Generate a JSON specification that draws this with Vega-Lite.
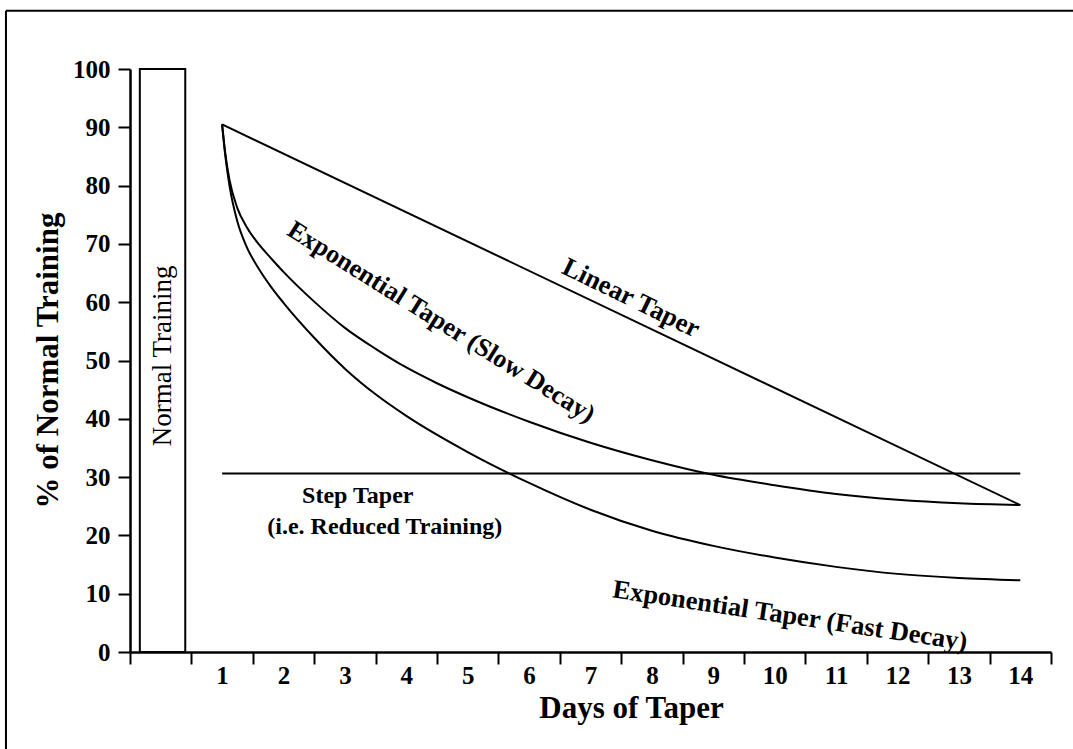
{
  "$schema": "https://vega.github.io/schema/vega-lite/v6.json",
  "width": 921,
  "height": 583,
  "autosize": {"type": "none"},
  "padding": {"left": 130, "top": 69, "right": 22, "bottom": 97},
  "background": "white",
  "config": {
    "view": {"stroke": null},
    "font": "Liberation Serif",
    "axis": {"grid": false, "domainColor": "black", "tickColor": "black", "labelColor": "black", "titleColor": "black"}
  },
  "resolve": {"axis": {"x": "independent", "y": "independent"}},
  "datasets": {
    "curves": [
      {"series": "Linear", "day": 1, "value": 90.5},
      {"series": "Linear", "day": 14, "value": 25.2},
      {"series": "Step", "day": 1, "value": 30.6},
      {"series": "Step", "day": 14, "value": 30.6},
      {"series": "Slow", "day": 1, "value": 90.5},
      {"series": "Slow", "day": 1.05, "value": 85.7},
      {"series": "Slow", "day": 1.12, "value": 81},
      {"series": "Slow", "day": 1.25, "value": 76.1},
      {"series": "Slow", "day": 1.4, "value": 72.9},
      {"series": "Slow", "day": 1.6, "value": 69.9},
      {"series": "Slow", "day": 1.8, "value": 67.5},
      {"series": "Slow", "day": 2, "value": 65.2},
      {"series": "Slow", "day": 2.5, "value": 60.1},
      {"series": "Slow", "day": 3, "value": 55.6},
      {"series": "Slow", "day": 3.5, "value": 52},
      {"series": "Slow", "day": 4, "value": 48.8},
      {"series": "Slow", "day": 4.5, "value": 46.1},
      {"series": "Slow", "day": 5, "value": 43.7},
      {"series": "Slow", "day": 6, "value": 39.5},
      {"series": "Slow", "day": 7, "value": 35.9},
      {"series": "Slow", "day": 8, "value": 32.9},
      {"series": "Slow", "day": 9, "value": 30.4},
      {"series": "Slow", "day": 10, "value": 28.6},
      {"series": "Slow", "day": 11, "value": 27.1},
      {"series": "Slow", "day": 12, "value": 26.1},
      {"series": "Slow", "day": 13, "value": 25.5},
      {"series": "Slow", "day": 14, "value": 25.2},
      {"series": "Fast", "day": 1, "value": 90.5},
      {"series": "Fast", "day": 1.05, "value": 85.3},
      {"series": "Fast", "day": 1.12, "value": 80},
      {"series": "Fast", "day": 1.25, "value": 73.8},
      {"series": "Fast", "day": 1.4, "value": 69.5},
      {"series": "Fast", "day": 1.6, "value": 65.7},
      {"series": "Fast", "day": 1.8, "value": 62.6},
      {"series": "Fast", "day": 2, "value": 59.9},
      {"series": "Fast", "day": 2.5, "value": 53.9},
      {"series": "Fast", "day": 3, "value": 48.6},
      {"series": "Fast", "day": 3.5, "value": 44.2},
      {"series": "Fast", "day": 4, "value": 40.5},
      {"series": "Fast", "day": 5, "value": 34.3},
      {"series": "Fast", "day": 6, "value": 29},
      {"series": "Fast", "day": 7, "value": 24.4},
      {"series": "Fast", "day": 8, "value": 20.8},
      {"series": "Fast", "day": 9, "value": 18.2},
      {"series": "Fast", "day": 10, "value": 16.2},
      {"series": "Fast", "day": 11, "value": 14.6},
      {"series": "Fast", "day": 12, "value": 13.4},
      {"series": "Fast", "day": 13, "value": 12.7},
      {"series": "Fast", "day": 14, "value": 12.3}
    ],
    "normalBar": [
      {"label": "Normal Training", "day": -0.34, "end": 0.4, "value": 0, "high": 100}
    ],
    "normalLabel": [
      {"label": "Normal Training", "day": 0.03, "value": 50.8}
    ]
  },
  "layer": [
    {
      "data": {"name": "curves"},
      "mark": {"type": "line", "color": "black", "strokeWidth": 2, "interpolate": "monotone"},
      "encoding": {
        "x": {
          "field": "day", "type": "quantitative",
          "scale": {"domain": [-0.5, 14.5], "nice": false, "zero": false},
          "axis": {
            "title": "Days of Taper",
            "values": [-0.5, 0.5, 1.5, 2.5, 3.5, 4.5, 5.5, 6.5, 7.5, 8.5, 9.5, 10.5, 11.5, 12.5, 13.5, 14.5],
            "labelExpr": "datum.value > 0 && datum.value < 14 ? format(datum.value + 0.5, 'd') : ''",
            "labelOffset": 30.7,
            "labelFlush": false,
            "labelOverlap": false,
            "labelBound": false,
            "labelFont": "Liberation Serif",
            "labelFontWeight": "bold",
            "labelFontSize": 25,
            "labelBaseline": "alphabetic",
            "labelPadding": 19,
            "tickSize": 12,
            "tickWidth": 2,
            "domainWidth": 2.5,
            "titleFont": "Liberation Serif",
            "titleFontWeight": "bold",
            "titleFontSize": 31,
            "titleBaseline": "alphabetic",
            "titleAlign": "center",
            "titleX": 501,
            "titleY": 65
          }
        },
        "y": {
          "field": "value", "type": "quantitative",
          "scale": {"domain": [0, 100], "nice": false},
          "axis": {
            "title": "% of Normal Training",
            "values": [0, 10, 20, 30, 40, 50, 60, 70, 80, 90, 100],
            "labelFont": "Liberation Serif",
            "labelFontWeight": "bold",
            "labelFontSize": 25,
            "labelPadding": 8,
            "tickSize": 12,
            "tickWidth": 2,
            "domainWidth": 2.5,
            "titleFont": "Liberation Serif",
            "titleFontWeight": "bold",
            "titleFontSize": 31,
            "titleAngle": -90,
            "titleAlign": "center",
            "titleBaseline": "middle",
            "titleX": -82,
            "titleY": 291
          }
        },
        "detail": {"field": "series"}
      }
    },
    {
      "data": {"name": "normalBar"},
      "mark": {"type": "rect", "fill": "white", "stroke": "black", "strokeWidth": 2},
      "encoding": {
        "x": {"field": "day", "type": "quantitative", "scale": {"domain": [-0.5, 14.5], "nice": false, "zero": false}, "axis": null},
        "x2": {"field": "end"},
        "y": {"field": "value", "type": "quantitative", "scale": {"domain": [0, 100], "nice": false}, "axis": null},
        "y2": {"field": "high"}
      }
    },
    {
      "data": {"name": "normalLabel"},
      "mark": {"type": "text", "angle": 270, "font": "Liberation Serif", "fontSize": 27, "color": "black", "align": "center", "baseline": "middle"},
      "encoding": {
        "x": {"field": "day", "type": "quantitative", "scale": {"domain": [-0.5, 14.5], "nice": false, "zero": false}, "axis": null},
        "y": {"field": "value", "type": "quantitative", "scale": {"domain": [0, 100], "nice": false}, "axis": null},
        "text": {"field": "label"}
      }
    },
    {
      "data": {"values": [{"label": "Linear Taper", "day": 7.66, "value": 60.7}]},
      "mark": {"type": "text", "angle": 26, "font": "Liberation Serif", "fontWeight": "bold", "fontSize": 26.5, "color": "black", "align": "center", "baseline": "middle"},
      "encoding": {
        "x": {"field": "day", "type": "quantitative", "scale": {"domain": [-0.5, 14.5], "nice": false, "zero": false}, "axis": null},
        "y": {"field": "value", "type": "quantitative", "scale": {"domain": [0, 100], "nice": false}, "axis": null},
        "text": {"field": "label"}
      }
    },
    {
      "data": {"values": [{"label": "Exponential Taper (Slow Decay)", "day": 4.57, "value": 56.6}]},
      "mark": {"type": "text", "angle": 32, "font": "Liberation Serif", "fontWeight": "bold", "fontSize": 26, "color": "black", "align": "center", "baseline": "middle"},
      "encoding": {
        "x": {"field": "day", "type": "quantitative", "scale": {"domain": [-0.5, 14.5], "nice": false, "zero": false}, "axis": null},
        "y": {"field": "value", "type": "quantitative", "scale": {"domain": [0, 100], "nice": false}, "axis": null},
        "text": {"field": "label"}
      }
    },
    {
      "data": {"values": [{"label": "Exponential Taper (Fast Decay)", "day": 10.25, "value": 6.2}]},
      "mark": {"type": "text", "angle": 8.5, "font": "Liberation Serif", "fontWeight": "bold", "fontSize": 26.5, "color": "black", "align": "center", "baseline": "middle"},
      "encoding": {
        "x": {"field": "day", "type": "quantitative", "scale": {"domain": [-0.5, 14.5], "nice": false, "zero": false}, "axis": null},
        "y": {"field": "value", "type": "quantitative", "scale": {"domain": [0, 100], "nice": false}, "axis": null},
        "text": {"field": "label"}
      }
    },
    {
      "data": {"values": [
        {"label": "Step Taper", "day": 3.21, "value": 26.8},
        {"label": "(i.e. Reduced Training)", "day": 3.65, "value": 21.4}
      ]},
      "mark": {"type": "text", "font": "Liberation Serif", "fontWeight": "bold", "fontSize": 24, "color": "black", "align": "center", "baseline": "middle"},
      "encoding": {
        "x": {"field": "day", "type": "quantitative", "scale": {"domain": [-0.5, 14.5], "nice": false, "zero": false}, "axis": null},
        "y": {"field": "value", "type": "quantitative", "scale": {"domain": [0, 100], "nice": false}, "axis": null},
        "text": {"field": "label"}
      }
    },
    {
      "data": {"values": [{"edge": "left"}]},
      "mark": {"type": "rule", "color": "black", "strokeWidth": 2, "clip": false},
      "encoding": {
        "x": {"datum": -2.52, "type": "quantitative", "axis": null},
        "y": {"datum": 110, "type": "quantitative", "axis": null},
        "y2": {"datum": -20}
      }
    },
    {
      "data": {"values": [{"edge": "top"}]},
      "mark": {"type": "rule", "color": "black", "strokeWidth": 2, "clip": false},
      "encoding": {
        "x": {"datum": -2.52, "type": "quantitative", "axis": null},
        "x2": {"datum": 15.2},
        "y": {"datum": 110, "type": "quantitative", "axis": null}
      }
    }
  ]
}
